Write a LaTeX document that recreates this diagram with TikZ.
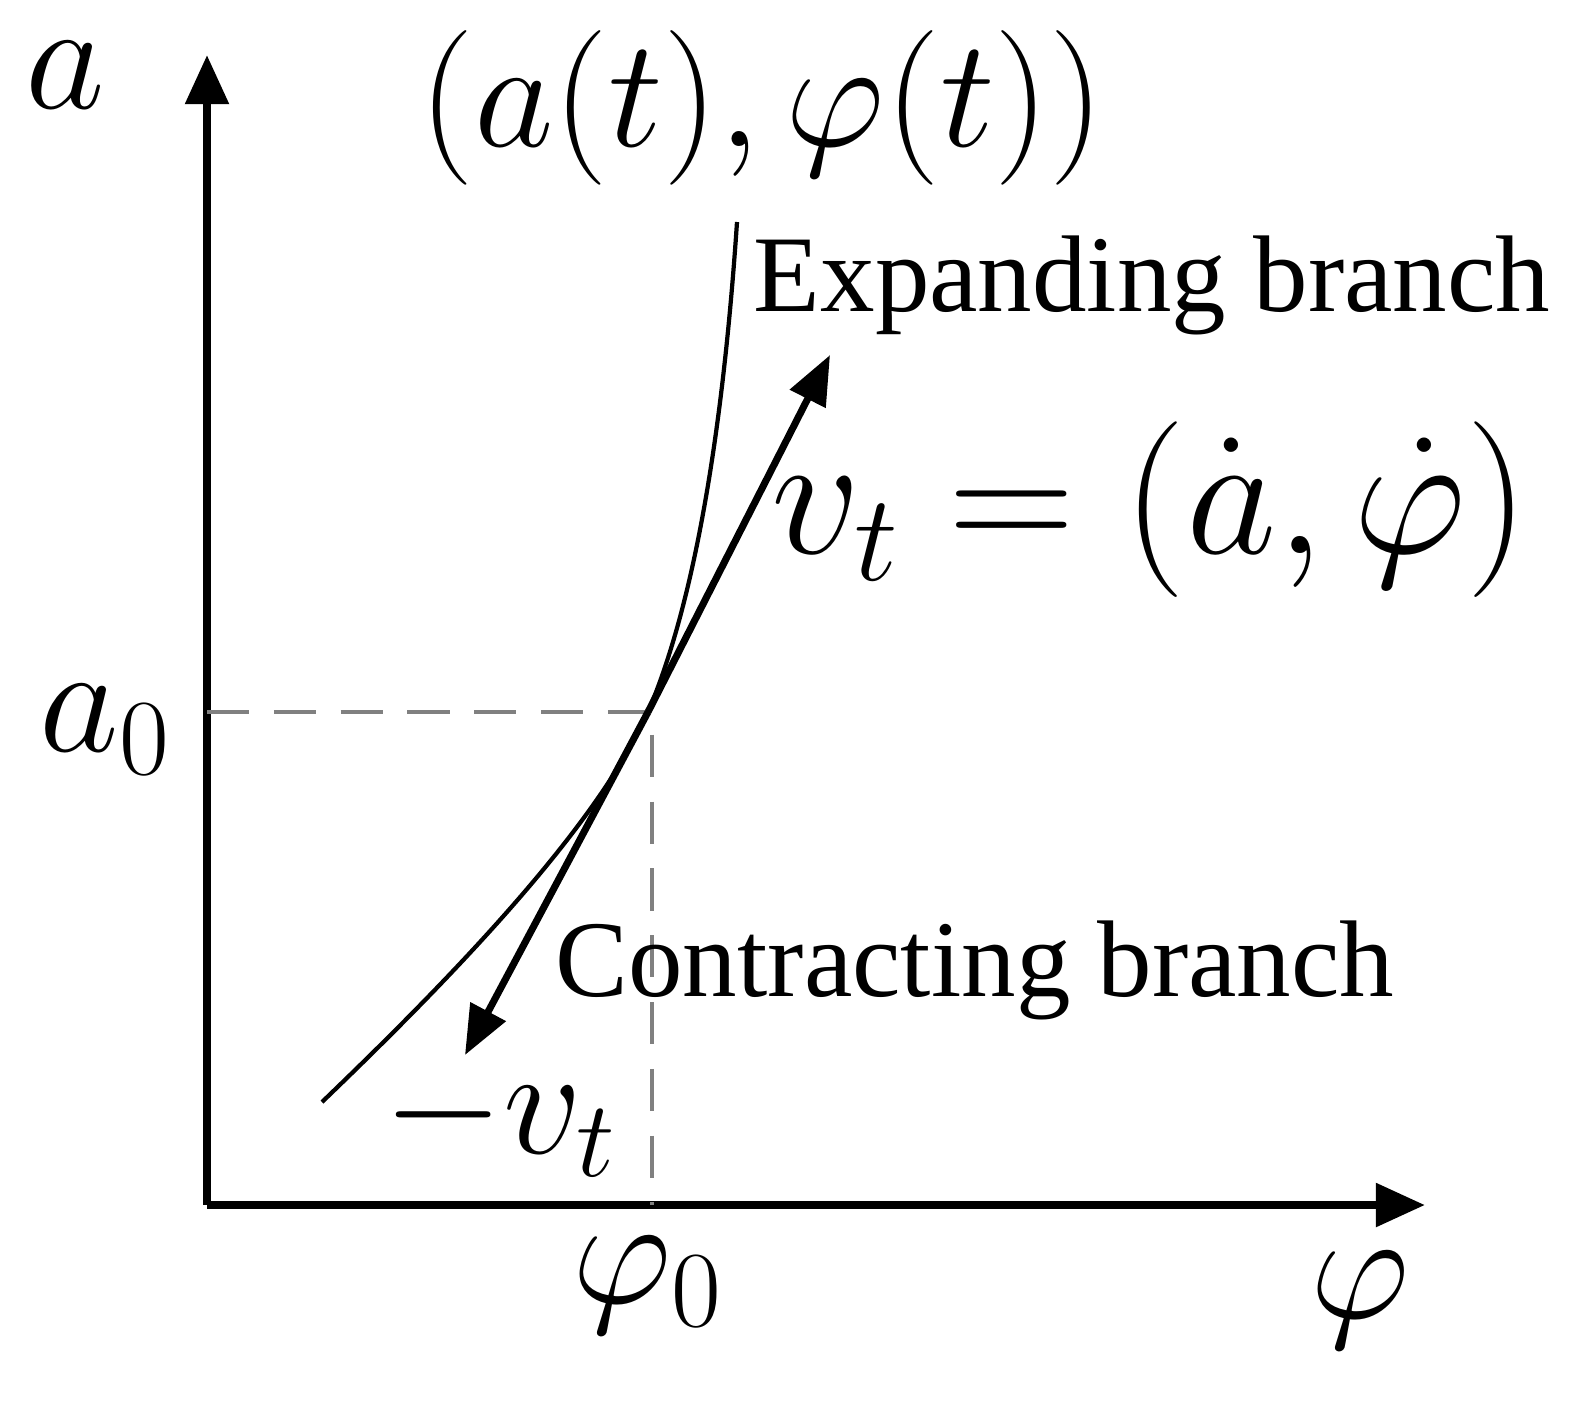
\RequirePackage{fix-cm}
\documentclass[tikz,border=0pt]{standalone}
\usepackage{fontspec}
\setmainfont{Liberation Serif}
\usetikzlibrary{arrows.meta}
\begin{document}
\begin{tikzpicture}[x=0.01cm,y=-0.01cm,
  ax/.style={line width=2.4pt,-{Triangle[length=14pt,width=12pt]}},
  lab/.style={inner sep=0pt,font=\fontsize{31}{36}\selectfont},
  mlab/.style={inner sep=0pt,font=\fontsize{44}{52}\selectfont}]
\useasboundingbox (0,0) rectangle (1595,1411);
\coordinate (O) at (207,1205);
\coordinate (ytip) at (207,55);
\coordinate (xtip) at (1425,1205);
\coordinate (P) at (648,712);
\coordinate (ya) at (207,712);
\coordinate (xa) at (652,1205);
\coordinate (up) at (830,355);
\coordinate (dn) at (465,1055);
\draw[ax] (O) -- (ytip);
\draw[ax] (O) -- (xtip);
\draw[gray,dashed,line width=1.2pt,dash pattern=on 12pt off 7pt] (ya) -- (652,712) -- (xa);
\draw[line width=1.2pt] (322,1102) .. controls (470,960) and (600,820) .. (648,712)
  .. controls (700,590) and (725,400) .. (737,222);
\draw[line width=2pt,-{Triangle[length=14pt,width=11pt]}] (P) -- (up);
\draw[line width=2pt,-{Triangle[length=14pt,width=11pt]}] (P) -- (dn);
\node[mlab] (la) at (65,75) {$a$};
\node[mlab] (lpt) at (762,108) {$(a(t),\varphi(t))$};
\node[lab] (le) at (1152,285) {Expanding branch};
\node[inner sep=0pt,font=\fontsize{50}{60}\selectfont] (lv) at (1150,510) {$v_t=(\dot a,\dot\varphi)$};
\node[lab] (lc) at (975,970) {Contracting branch};
\node[mlab] (lm) at (500,1120) {$-v_t$};
\node[mlab] (la0) at (105,730) {$a_0$};
\node[mlab] (lp0) at (648,1285) {$\varphi_0$};
\node[mlab] (lp) at (1360,1300) {$\varphi$};
\end{tikzpicture}
\end{document}
